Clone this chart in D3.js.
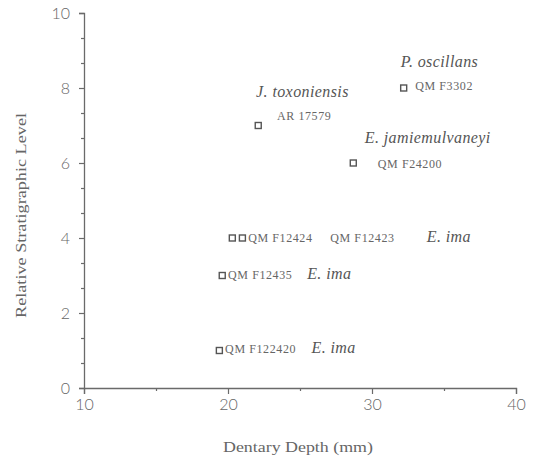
<!DOCTYPE html>
<html><head><meta charset="utf-8">
<script src="https://cdn.jsdelivr.net/npm/d3@7"></script>
<style>body{margin:0;background:#fff}svg{display:block}</style>
</head><body>
<script>
// ---- data ----
const specimens = ["QM F3302","AR 17579","QM F24200","QM F12424a","QM F12424b","QM F12435","QM F122420"];
const dentaryDepth = [32.2, 22.1, 28.7, 20.3, 21.0, 19.6, 19.4];
const stratLevel   = [8, 7, 6, 4, 4, 3, 1];

// annotations (data coordinates of text start / baseline)
const labelText   = ["P. oscillans","QM F3302","J. toxoniensis","AR 17579","E. jamiemulvaneyi","QM F24200",
                     "QM F12424","QM F12423","E. ima","QM F12435","E. ima","QM F122420","E. ima"];
const labelX      = [32.0, 33.0, 21.95, 23.4, 29.5, 30.4, 21.4, 27.1, 33.8, 20.0, 25.5, 19.8, 25.8];
const labelY      = [8.56, 7.95, 7.76, 7.15, 6.53, 5.88, 3.9, 3.9, 3.9, 2.9, 2.9, 0.93, 0.93];
const labelItalic = [true,false,true,false,true,false,false,false,true,false,true,false,true];

const xTicks = [10,20,30,40];
const xMinor = [15,25,35];
const yTicks = [0,2,4,6,8,10];
const xTitle = "Dentary Depth (mm)";
const yTitle = "Relative Stratigraphic Level";

// ---- chart ----
const W = 536, H = 469;
const m = {l:84, t:13, r:20, b:81};
const svg = d3.select("body").append("svg").attr("width",W).attr("height",H);
const x = d3.scaleLinear().domain([10,40]).range([m.l, W-m.r]);
const y = d3.scaleLinear().domain([0,10]).range([H-m.b, m.t]);

const axisCol = "#6a6a6a";
const tickFont = "Lato, 'DejaVu Sans', sans-serif";
const serif = "Liberation Serif, Times New Roman, serif";

// x axis
const gx = svg.append("g").attr("transform",`translate(0,${y(0)})`)
  .call(d3.axisBottom(x).tickValues(xTicks).tickSize(6).tickPadding(5).tickFormat(d3.format("d")));
gx.append("g").call(d3.axisBottom(x).tickValues(xMinor).tickSize(3).tickFormat(""))
  .select(".domain").remove();
// y axis
const gy = svg.append("g").attr("transform",`translate(${x(10)},0)`)
  .call(d3.axisLeft(y).tickValues(yTicks).tickSize(5).tickPadding(9).tickFormat(d3.format("d")));
const yMinor = d3.range(0, 10, 2/3).filter(v => Math.abs(v/2 - Math.round(v/2)) > 0.01);
gy.append("g").call(d3.axisLeft(y).tickValues(yMinor).tickSize(3).tickFormat(""))
  .select(".domain").remove();

svg.selectAll(".domain").attr("stroke",axisCol).attr("stroke-width",1.3);
svg.selectAll(".tick line").attr("stroke",axisCol).attr("stroke-width",1.2);
svg.selectAll(".tick text").attr("fill","#666").attr("font-family",tickFont)
  .attr("font-size",16).attr("font-weight",300);

// titles
svg.append("text").attr("x", (x(10)+x(40))/2 - 2).attr("y", 452)
  .attr("text-anchor","middle").attr("font-family",serif)
  .attr("font-size",14).attr("fill","#666").attr("textLength",150).attr("lengthAdjust","spacingAndGlyphs")
  .text(xTitle);
svg.append("text").attr("transform",`translate(26,${y(4.6)}) rotate(-90)`)
  .attr("text-anchor","middle").attr("font-family",serif)
  .attr("font-size",14).attr("fill","#666").attr("textLength",205).attr("lengthAdjust","spacingAndGlyphs")
  .text(yTitle);

// points
svg.append("g").selectAll("rect").data(specimens).join("rect")
  .attr("x",(d,i)=>x(dentaryDepth[i])-3).attr("y",(d,i)=>y(stratLevel[i])-3)
  .attr("width",6).attr("height",6)
  .attr("fill","#fff").attr("stroke","#555").attr("stroke-width",1.4);

// labels
svg.append("g").selectAll("text").data(labelText).join("text")
  .attr("x",(d,i)=>x(labelX[i])).attr("y",(d,i)=>y(labelY[i]))
  .attr("font-family",serif)
  .attr("font-style",(d,i)=>labelItalic[i]?"italic":"normal")
  .attr("font-size",(d,i)=>labelItalic[i]?16:12)
  .attr("letter-spacing",(d,i)=>labelItalic[i]?0.4:0.6)
  .attr("fill",(d,i)=>labelItalic[i]?"#555":"#666")
  .text(d=>d);
</script>
</body></html>
